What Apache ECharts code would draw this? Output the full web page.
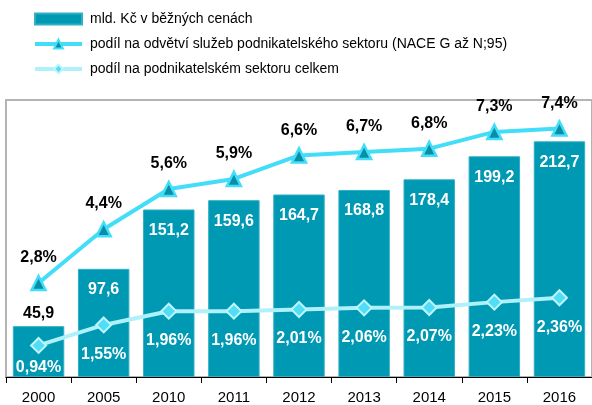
<!DOCTYPE html>
<html><head><meta charset="utf-8">
<script src="https://cdn.jsdelivr.net/npm/echarts@6/dist/echarts.min.js"></script>
<style>html,body{margin:0;padding:0;background:#fff}#c{width:592px;height:405px}</style>
</head><body><div id="c"></div>
<script>
var years = ['2000','2005','2010','2011','2012','2013','2014','2015','2016'];
var mldKc = [45.9, 97.6, 151.2, 159.6, 164.7, 168.8, 178.4, 199.2, 212.7];
var podilSluzby = [2.8, 4.4, 5.6, 5.9, 6.6, 6.7, 6.8, 7.3, 7.4];
var podilCelkem = [0.94, 1.55, 1.96, 1.96, 2.01, 2.06, 2.07, 2.23, 2.36];
var names = ['mld. Kč v běžných cenách',
  'podíl na odvětví služeb podnikatelského sektoru (NACE G až N;95)',
  'podíl na podnikatelském sektoru celkem'];

function fmt(v, d){ return v.toFixed(d).replace('.', ','); }
var font = 'Liberation Sans, Arial, sans-serif';

var chart = echarts.init(document.getElementById('c'));
chart.setOption({
  animation: false,
  textStyle: {fontFamily: font},
  grid: {left: 6, top: 100, width: 591, height: 278, show: true, borderColor: '#b4b4b4', borderWidth: 2},
  legend: {
    orient: 'vertical', left: 28, top: 7, itemWidth: 47, itemHeight: 11, itemGap: 11,
    textStyle: {fontSize: 14, color: '#000', fontFamily: font, padding: [0, 0, 0, 3]},
    data: [
      {name: names[0], icon: 'rect'},
      {name: names[1], lineStyle: {width: 4}},
      {name: names[2], lineStyle: {width: 4}}
    ]
  },
  xAxis: {
    type: 'category', data: years,
    axisLine: {lineStyle: {color: '#000', width: 1}},
    axisTick: {show: true, length: 6, lineStyle: {color: '#000'}},
    axisLabel: {fontSize: 15, color: '#000', margin: 13, fontFamily: font}
  },
  yAxis: [
    {type: 'value', min: 0, max: 250, show: false, splitLine: {show: false}},
    {type: 'value', min: 0, max: 8.25, show: false, splitLine: {show: false}}
  ],
  series: [
    {
      name: names[0], type: 'bar', barCategoryGap: '21%', z: 1,
      itemStyle: {color: '#0099b3', borderColor: '#2fb0c4', borderWidth: 1},
      data: mldKc.map(function(v, i){
        var o = {value: v};
        if (i === 0) o.label = {position: 'top', distance: 5, color: '#000'};
        return o;
      }),
      label: {show: true, position: 'insideTop', distance: 13, color: '#fff', fontWeight: 'bold', fontSize: 16, fontFamily: font,
        formatter: function(p){ return fmt(p.value, 1); }}
    },
    {
      name: names[1], type: 'line', yAxisIndex: 1, z: 3,
      data: podilSluzby,
      lineStyle: {color: '#42ddf8', width: 4},
      symbol: 'triangle', symbolSize: 14,
      itemStyle: {color: '#0a8ea6', borderColor: '#42ddf8', borderWidth: 2.5},
      label: {show: true, position: 'top', distance: 9, color: '#000', fontWeight: 'bold', fontSize: 16, fontFamily: font,
        formatter: function(p){ return fmt(p.value, 1) + '%'; }}
    },
    {
      name: names[2], type: 'line', yAxisIndex: 1, z: 3,
      data: podilCelkem.map(function(v, i){
        var o = {value: v};
        if (i === 0) o.label = {distance: 6};
        return o;
      }),
      lineStyle: {color: '#aef1fb', width: 4},
      symbol: 'diamond', symbolSize: 15,
      itemStyle: {color: '#52ddf6', borderColor: '#bdf5fc', borderWidth: 2},
      label: {show: true, position: 'bottom', distance: 13, color: '#fff', fontWeight: 'bold', fontSize: 16, fontFamily: font,
        formatter: function(p){ return fmt(p.value, 2) + '%'; }}
    }
  ]
});
</script></body></html>
